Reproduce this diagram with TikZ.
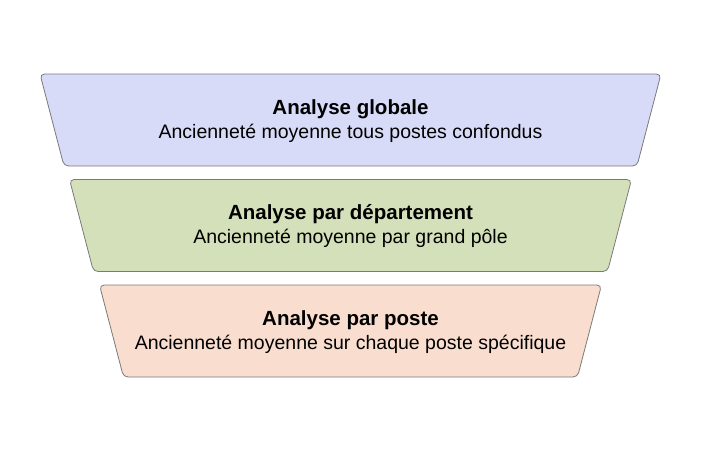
\documentclass[tikz,border=0pt]{standalone}
\usepackage{fontspec}
\setmainfont{Liberation Sans}

\definecolor{globalfill}{HTML}{D7DBF8}
\definecolor{deptfill}{HTML}{D4E0B9}
\definecolor{postefill}{HTML}{F9DECF}
\definecolor{edge}{HTML}{7A7A7A}
\newcommand{\stagetitle}[1]{{\fontsize{20.5}{24}\selectfont\bfseries #1}}

\begin{document}
\begin{tikzpicture}[
    x=1pt, y=-1pt,
    level/.style={draw=edge, line width=0.8pt, rounded corners=4.5pt},
    stagetext/.style={align=center, inner sep=0pt, font=\fontsize{19.5}{24}\selectfont}
]
\useasboundingbox (0,0) rectangle (701,450);

% Funnel levels (top width, bottom width, height 92)
\draw[level, fill=globalfill] (40,74) -- (661,74) -- (637,166) -- (64,166) -- cycle;
\draw[level, fill=deptfill] (69.5,179.5) -- (631.5,179.5) -- (607.5,271.5) -- (93.5,271.5) -- cycle;
\draw[level, fill=postefill] (99.5,285) -- (601.5,285) -- (577.5,377) -- (123.5,377) -- cycle;

% Labels
\node[stagetext] (globale) at (350.5,121)
    {\stagetitle{Analyse globale}\\Ancienneté moyenne tous postes confondus};
\node[stagetext] (departement) at (350.5,226.5)
    {\stagetitle{Analyse par département}\\Ancienneté moyenne par grand pôle};
\node[stagetext] (poste) at (350.5,332)
    {\stagetitle{Analyse par poste}\\Ancienneté moyenne sur chaque poste spécifique};
\end{tikzpicture}
\end{document}
